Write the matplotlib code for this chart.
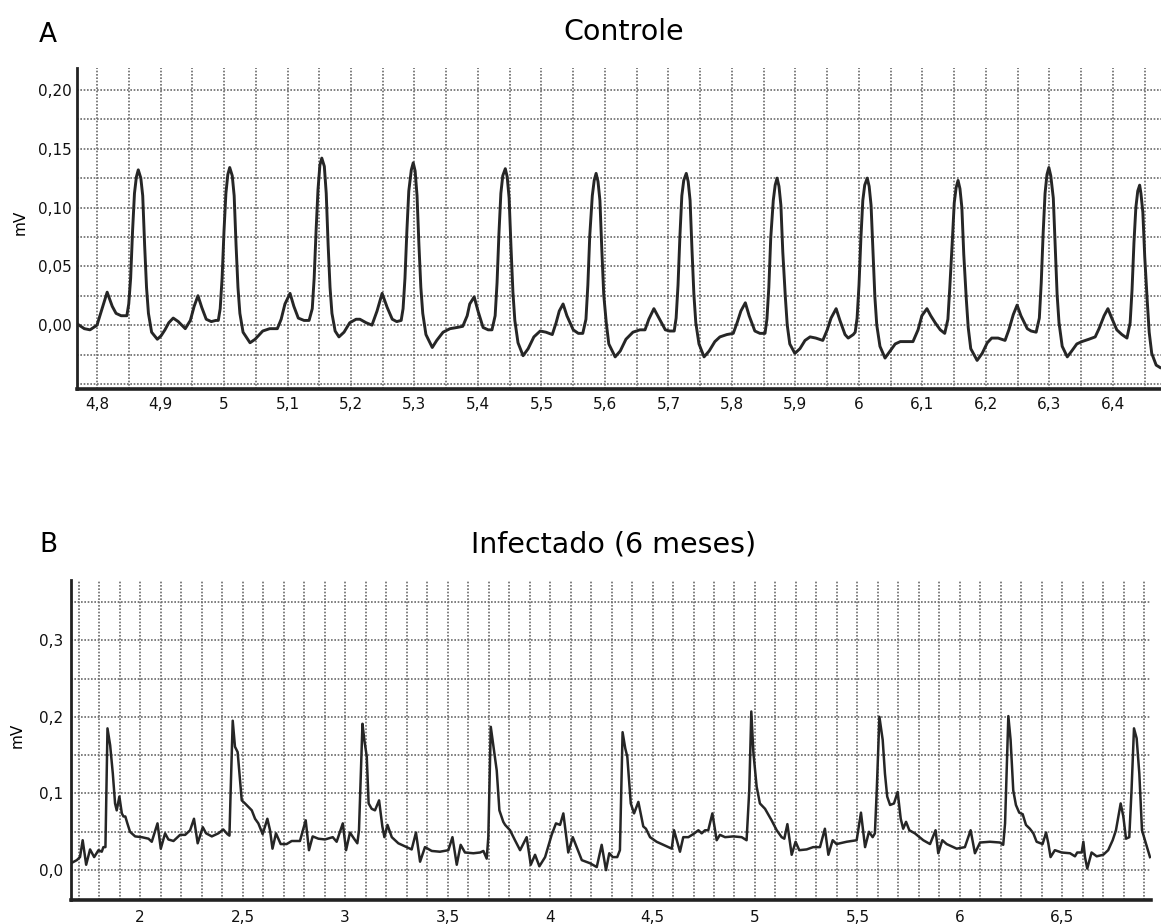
import numpy as np
import matplotlib
matplotlib.use("Agg")
import matplotlib.pyplot as plt
from matplotlib.ticker import FixedLocator, MultipleLocator, FuncFormatter

plt.rcParams["font.family"] = ["DejaVu Sans"]

# --- Panel A: control ECG trace (s, mV) ---
controle_t = [
    4.769, 4.780, 4.789, 4.800, 4.808, 4.816, 4.824, 4.830, 4.838, 4.847,
    4.850, 4.853, 4.856, 4.859, 4.862, 4.865, 4.869, 4.872, 4.875, 4.878,
    4.881, 4.886, 4.895, 4.901, 4.907, 4.913, 4.920, 4.928, 4.939, 4.947,
    4.953, 4.959, 4.965, 4.972, 4.980, 4.987, 4.991, 4.994, 4.997, 5.000,
    5.003, 5.006, 5.009, 5.013, 5.016, 5.019, 5.022, 5.025, 5.030, 5.041,
    5.049, 5.061, 5.072, 5.084, 5.090, 5.096, 5.104, 5.110, 5.117, 5.126,
    5.134, 5.139, 5.142, 5.145, 5.148, 5.151, 5.154, 5.158, 5.161, 5.164,
    5.167, 5.170, 5.175, 5.181, 5.189, 5.198, 5.208, 5.214, 5.224, 5.233,
    5.241, 5.249, 5.257, 5.265, 5.272, 5.279, 5.282, 5.285, 5.288, 5.291,
    5.295, 5.298, 5.301, 5.304, 5.307, 5.310, 5.313, 5.318, 5.328, 5.335,
    5.345, 5.356, 5.367, 5.376, 5.383, 5.387, 5.394, 5.400, 5.408, 5.416,
    5.422, 5.427, 5.430, 5.433, 5.436, 5.439, 5.443, 5.446, 5.449, 5.452,
    5.455, 5.458, 5.463, 5.471, 5.479, 5.488, 5.498, 5.507, 5.517, 5.523,
    5.528, 5.534, 5.540, 5.550, 5.558, 5.565, 5.570, 5.573, 5.576, 5.580,
    5.583, 5.586, 5.589, 5.592, 5.595, 5.598, 5.602, 5.606, 5.616, 5.624,
    5.633, 5.644, 5.655, 5.663, 5.669, 5.677, 5.685, 5.695, 5.702, 5.709,
    5.712, 5.715, 5.718, 5.721, 5.724, 5.728, 5.731, 5.734, 5.737, 5.740,
    5.743, 5.748, 5.756, 5.764, 5.773, 5.781, 5.792, 5.802, 5.808, 5.814,
    5.821, 5.827, 5.836, 5.844, 5.852, 5.855, 5.858, 5.861, 5.865, 5.868,
    5.871, 5.874, 5.877, 5.880, 5.884, 5.887, 5.891, 5.899, 5.907, 5.915,
    5.923, 5.932, 5.943, 5.950, 5.956, 5.964, 5.970, 5.978, 5.983, 5.991,
    5.994, 5.997, 6.000, 6.003, 6.006, 6.009, 6.013, 6.016, 6.019, 6.022,
    6.025, 6.028, 6.033, 6.041, 6.049, 6.057, 6.065, 6.076, 6.085, 6.093,
    6.099, 6.107, 6.113, 6.120, 6.128, 6.135, 6.140, 6.143, 6.147, 6.150,
    6.153, 6.156, 6.159, 6.162, 6.165, 6.169, 6.172, 6.176, 6.186, 6.194,
    6.202, 6.209, 6.219, 6.230, 6.236, 6.243, 6.249, 6.255, 6.265, 6.271,
    6.279, 6.284, 6.287, 6.290, 6.293, 6.296, 6.299, 6.302, 6.306, 6.309,
    6.312, 6.315, 6.320, 6.328, 6.335, 6.343, 6.351, 6.362, 6.372, 6.378,
    6.386, 6.392, 6.398, 6.406, 6.414, 6.422, 6.427, 6.430, 6.433, 6.436,
    6.439, 6.442, 6.444, 6.447, 6.450, 6.454, 6.457, 6.461, 6.468, 6.474,
]
controle_mv = [
    0.001, -0.003, -0.004, 0.000, 0.014, 0.028, 0.016, 0.010, 0.008, 0.008,
    0.018, 0.040, 0.080, 0.112, 0.126, 0.132, 0.125, 0.110, 0.068, 0.032,
    0.010, -0.006, -0.012, -0.009, -0.004, 0.002, 0.006, 0.003, -0.003, 0.004,
    0.016, 0.025, 0.015, 0.005, 0.003, 0.004, 0.004, 0.014, 0.040, 0.080,
    0.112, 0.128, 0.134, 0.127, 0.110, 0.068, 0.032, 0.010, -0.006, -0.015,
    -0.012, -0.005, -0.003, -0.003, 0.005, 0.018, 0.027, 0.016, 0.006, 0.004,
    0.004, 0.014, 0.040, 0.080, 0.115, 0.136, 0.142, 0.135, 0.112, 0.068,
    0.032, 0.010, -0.005, -0.010, -0.006, 0.002, 0.005, 0.005, 0.002, 0.000,
    0.012, 0.027, 0.015, 0.005, 0.003, 0.004, 0.014, 0.040, 0.080, 0.114,
    0.132, 0.138, 0.131, 0.110, 0.068, 0.032, 0.010, -0.008, -0.019, -0.013,
    -0.006, -0.003, -0.002, -0.001, 0.008, 0.018, 0.024, 0.012, -0.002, -0.004,
    -0.004, 0.008, 0.036, 0.078, 0.112, 0.127, 0.133, 0.126, 0.108, 0.066,
    0.028, 0.004, -0.015, -0.026, -0.020, -0.010, -0.005, -0.006, -0.008, 0.002,
    0.012, 0.018, 0.008, -0.004, -0.007, -0.007, 0.005, 0.034, 0.076, 0.110,
    0.123, 0.129, 0.122, 0.106, 0.064, 0.026, 0.002, -0.016, -0.027, -0.022,
    -0.012, -0.006, -0.004, -0.004, 0.005, 0.014, 0.006, -0.004, -0.005, -0.005,
    0.006, 0.034, 0.076, 0.110, 0.123, 0.129, 0.122, 0.106, 0.064, 0.026,
    0.002, -0.016, -0.027, -0.022, -0.014, -0.010, -0.008, -0.007, 0.002, 0.012,
    0.019, 0.008, -0.005, -0.007, -0.007, 0.005, 0.032, 0.074, 0.106, 0.119,
    0.125, 0.118, 0.102, 0.062, 0.024, 0.000, -0.016, -0.024, -0.020, -0.013,
    -0.010, -0.011, -0.013, -0.004, 0.006, 0.014, 0.004, -0.008, -0.011, -0.008,
    -0.006, 0.006, 0.034, 0.074, 0.106, 0.119, 0.125, 0.118, 0.102, 0.062,
    0.024, 0.000, -0.018, -0.028, -0.022, -0.016, -0.014, -0.014, -0.014, -0.004,
    0.008, 0.014, 0.008, 0.002, -0.004, -0.007, 0.005, 0.032, 0.072, 0.104,
    0.117, 0.123, 0.116, 0.100, 0.060, 0.022, -0.002, -0.020, -0.030, -0.024,
    -0.015, -0.011, -0.011, -0.013, -0.004, 0.009, 0.017, 0.008, -0.003, -0.005,
    -0.006, 0.006, 0.036, 0.078, 0.112, 0.128, 0.134, 0.127, 0.108, 0.066,
    0.026, 0.002, -0.018, -0.027, -0.022, -0.016, -0.014, -0.012, -0.010, -0.003,
    0.008, 0.014, 0.006, -0.004, -0.008, -0.011, 0.002, 0.030, 0.070, 0.100,
    0.114, 0.119, 0.112, 0.096, 0.058, 0.020, -0.006, -0.024, -0.034, -0.036,
]

# --- Panel B: infected (6 months) ECG trace (s, mV) ---
infectado_t = [
    1.663, 1.691, 1.707, 1.720, 1.737, 1.756, 1.776, 1.797, 1.813, 1.821,
    1.831, 1.841, 1.854, 1.867, 1.878, 1.886, 1.899, 1.911, 1.919, 1.928,
    1.938, 1.951, 1.976, 2.008, 2.041, 2.057, 2.085, 2.101, 2.122, 2.138,
    2.163, 2.195, 2.220, 2.244, 2.263, 2.281, 2.306, 2.322, 2.350, 2.382,
    2.406, 2.426, 2.436, 2.442, 2.452, 2.463, 2.476, 2.496, 2.512, 2.545,
    2.561, 2.577, 2.598, 2.621, 2.634, 2.646, 2.663, 2.686, 2.715, 2.740,
    2.780, 2.808, 2.824, 2.842, 2.870, 2.902, 2.940, 2.959, 2.989, 3.005,
    3.024, 3.044, 3.060, 3.068, 3.085, 3.094, 3.106, 3.115, 3.130, 3.146,
    3.166, 3.182, 3.192, 3.207, 3.228, 3.260, 3.301, 3.325, 3.346, 3.366,
    3.390, 3.423, 3.463, 3.504, 3.524, 3.545, 3.564, 3.585, 3.626, 3.659,
    3.675, 3.691, 3.699, 3.711, 3.724, 3.740, 3.753, 3.772, 3.781, 3.805,
    3.829, 3.854, 3.886, 3.906, 3.927, 3.948, 3.976, 4.008, 4.029, 4.049,
    4.065, 4.089, 4.111, 4.130, 4.155, 4.195, 4.228, 4.252, 4.273, 4.289,
    4.306, 4.328, 4.341, 4.354, 4.367, 4.377, 4.394, 4.410, 4.431, 4.455,
    4.468, 4.488, 4.520, 4.553, 4.594, 4.605, 4.634, 4.650, 4.675, 4.699,
    4.724, 4.740, 4.756, 4.772, 4.792, 4.813, 4.829, 4.854, 4.894, 4.935,
    4.959, 4.972, 4.982, 4.992, 5.008, 5.024, 5.049, 5.081, 5.106, 5.130,
    5.143, 5.158, 5.179, 5.198, 5.216, 5.252, 5.284, 5.317, 5.341, 5.358,
    5.379, 5.398, 5.447, 5.496, 5.517, 5.537, 5.556, 5.574, 5.585, 5.594,
    5.607, 5.623, 5.634, 5.645, 5.659, 5.678, 5.696, 5.711, 5.723, 5.737,
    5.753, 5.780, 5.821, 5.854, 5.881, 5.894, 5.914, 5.935, 5.984, 6.024,
    6.052, 6.073, 6.098, 6.146, 6.195, 6.211, 6.220, 6.236, 6.247, 6.260,
    6.273, 6.289, 6.306, 6.322, 6.341, 6.358, 6.374, 6.403, 6.420, 6.431,
    6.442, 6.463, 6.496, 6.537, 6.561, 6.572, 6.594, 6.602, 6.610, 6.621,
    6.642, 6.667, 6.699, 6.723, 6.745, 6.761, 6.784, 6.797, 6.810, 6.826,
    6.837, 6.849, 6.862, 6.875, 6.888, 6.907, 6.927,
]
infectado_mv = [
    0.009, 0.013, 0.017, 0.039, 0.007, 0.027, 0.017, 0.026, 0.024, 0.030,
    0.030, 0.185, 0.163, 0.126, 0.087, 0.078, 0.096, 0.074, 0.070, 0.070,
    0.061, 0.050, 0.044, 0.043, 0.041, 0.037, 0.061, 0.028, 0.048, 0.040,
    0.038, 0.046, 0.046, 0.052, 0.067, 0.035, 0.056, 0.048, 0.044, 0.048,
    0.053, 0.047, 0.045, 0.104, 0.195, 0.161, 0.154, 0.091, 0.087, 0.078,
    0.067, 0.061, 0.047, 0.067, 0.052, 0.028, 0.048, 0.034, 0.034, 0.038,
    0.038, 0.065, 0.026, 0.044, 0.041, 0.040, 0.043, 0.037, 0.061, 0.026,
    0.049, 0.041, 0.035, 0.052, 0.191, 0.170, 0.148, 0.087, 0.080, 0.078,
    0.091, 0.057, 0.043, 0.059, 0.043, 0.035, 0.030, 0.027, 0.049, 0.011,
    0.030, 0.025, 0.024, 0.026, 0.043, 0.007, 0.033, 0.023, 0.022, 0.023,
    0.025, 0.015, 0.043, 0.187, 0.161, 0.130, 0.078, 0.063, 0.059, 0.052,
    0.039, 0.026, 0.043, 0.007, 0.020, 0.005, 0.017, 0.046, 0.061, 0.059,
    0.074, 0.023, 0.043, 0.030, 0.013, 0.009, 0.004, 0.033, 0.000, 0.022,
    0.017, 0.017, 0.026, 0.180, 0.159, 0.148, 0.087, 0.074, 0.089, 0.057,
    0.054, 0.043, 0.037, 0.033, 0.028, 0.052, 0.024, 0.043, 0.043, 0.047,
    0.052, 0.048, 0.052, 0.052, 0.074, 0.039, 0.046, 0.043, 0.044, 0.043,
    0.039, 0.104, 0.207, 0.154, 0.109, 0.087, 0.080, 0.065, 0.052, 0.043,
    0.041, 0.060, 0.020, 0.037, 0.026, 0.027, 0.030, 0.030, 0.054, 0.020,
    0.039, 0.034, 0.037, 0.039, 0.075, 0.030, 0.050, 0.043, 0.048, 0.104,
    0.200, 0.170, 0.126, 0.096, 0.085, 0.087, 0.102, 0.067, 0.054, 0.063,
    0.052, 0.048, 0.039, 0.034, 0.052, 0.022, 0.039, 0.034, 0.028, 0.030,
    0.052, 0.022, 0.036, 0.037, 0.036, 0.033, 0.061, 0.201, 0.170, 0.104,
    0.085, 0.075, 0.073, 0.059, 0.054, 0.048, 0.037, 0.034, 0.049, 0.035,
    0.017, 0.026, 0.023, 0.022, 0.018, 0.023, 0.023, 0.037, 0.017, 0.002,
    0.023, 0.018, 0.020, 0.026, 0.039, 0.052, 0.087, 0.070, 0.041, 0.043,
    0.104, 0.185, 0.172, 0.126, 0.052, 0.035, 0.017,
]

controle_xticks = [4.8, 4.9, 5.0, 5.1, 5.2, 5.3, 5.4, 5.5, 5.6, 5.7, 5.8,
                   5.9, 6.0, 6.1, 6.2, 6.3, 6.4]
controle_yticks = [0.0, 0.05, 0.10, 0.15, 0.20]
infectado_xticks = [2.0, 2.5, 3.0, 3.5, 4.0, 4.5, 5.0, 5.5, 6.0, 6.5]
infectado_yticks = [0.0, 0.1, 0.2, 0.3]

TRACE = "#262626"
GRID = "#6a6a6a"
W, H = 1161, 924


def comma(decimals=None):
    def f(v, pos):
        s = f"{round(v, 3):g}" if decimals is None else f"{v:.{decimals}f}"
        return s.replace(".", ",")
    return FuncFormatter(f)


def style_axis(ax, xticks, yticks, xminor, yminor, ydec, xpad, ypad):
    for side in ("top", "right"):
        ax.spines[side].set_visible(False)
    ax.spines["left"].set_linewidth(2.0)
    ax.spines["bottom"].set_linewidth(2.6)
    ax.spines["left"].set_color("#222222")
    ax.spines["bottom"].set_color("#222222")

    ax.xaxis.set_major_locator(FixedLocator(xticks))
    ax.yaxis.set_major_locator(FixedLocator(yticks))
    ax.xaxis.set_minor_locator(MultipleLocator(xminor))
    ax.yaxis.set_minor_locator(MultipleLocator(yminor))
    ax.xaxis.set_major_formatter(comma())
    ax.yaxis.set_major_formatter(comma(ydec))

    ax.tick_params(which="both", length=0, labelsize=11, colors="#111111")
    ax.tick_params(axis="x", pad=xpad)
    ax.tick_params(axis="y", pad=ypad)
    ax.grid(True, which="both", color=GRID, linestyle=(0, (1, 1)), linewidth=1.2)
    ax.set_axisbelow(True)


fig = plt.figure(figsize=(W / 100, H / 100), dpi=100)

# panel A
ax1 = fig.add_axes([77 / W, 1 - 389 / H, (W - 77) / W, (389 - 68) / H])
ax1.plot(controle_t, controle_mv, color=TRACE, linewidth=2.1, solid_joinstyle="round")
ax1.set_xlim(4.7685, 6.4756)
ax1.set_ylim(-0.0543, 0.2186)
style_axis(ax1, controle_xticks, controle_yticks, 0.05, 0.025, 2, 6, 3.5)

# panel B
ax2 = fig.add_axes([71 / W, 1 - 900 / H, (1151 - 71) / W, (900 - 580) / H])
ax2.plot(infectado_t, infectado_mv, color=TRACE, linewidth=1.8, solid_joinstyle="round")
ax2.set_xlim(1.663, 6.932)
ax2.set_ylim(-0.039, 0.3786)
style_axis(ax2, infectado_xticks, infectado_yticks, 0.1, 0.05, 1, 7, 5.5)

fig.text(624 / W, 1 - 32 / H, "Controle", ha="center", va="center", fontsize=20.5)
fig.text(614 / W, 1 - 545 / H, "Infectado (6 meses)", ha="center", va="center",
         fontsize=20.5)
fig.text(48 / W, 1 - 35 / H, "A", ha="center", va="center", fontsize=19)
fig.text(48 / W, 1 - 545 / H, "B", ha="center", va="center", fontsize=19)
fig.text(20 / W, 1 - 222 / H, "mV", ha="center", va="center", rotation=90, fontsize=11)
fig.text(17 / W, 1 - 735 / H, "mV", ha="center", va="center", rotation=90, fontsize=11)

fig.savefig("out.png", dpi=100)
